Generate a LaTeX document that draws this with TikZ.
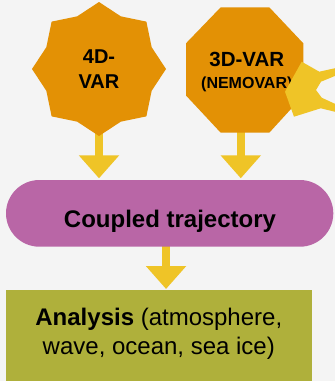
\documentclass[tikz,border=0pt]{standalone}
\usepackage{fontspec}
\setmainfont{Liberation Sans}
\usetikzlibrary{arrows.meta,shapes.misc,backgrounds,calc}
\definecolor{bgc}{HTML}{F4F4F4}
\definecolor{orc}{HTML}{E39105}
\definecolor{yelc}{HTML}{EFC427}
\definecolor{pkc}{HTML}{B966A6}
\definecolor{olc}{HTML}{AFB03B}
\begin{document}
\begin{tikzpicture}[x=1pt,y=-1pt,
  bigarrow/.style={draw=yelc, line width=8pt, -{Triangle[width=39pt,length=23pt]}},
  txt/.style={text=black, inner sep=0pt, align=center}]
\useasboundingbox (0,0) rectangle (335,381);
\begin{scope}[on background layer]
\fill[bgc] (0,0) rectangle (335,381);
\end{scope}
\begin{scope}
\clip (0,0) rectangle (335,381);
% 4D-VAR star
\fill[orc, shift={(99,69)}] (90:67) \foreach \k in {1,...,15}{ -- ({90+22.5*\k}:{67-10*mod(\k,2)}) } -- cycle;
% 3D-VAR octagon
\fill[orc] (220.7,7.3) -- (269.3,7.3) -- (303.3,43.3) -- (303.3,95.5) -- (269.3,132.7) -- (220.7,132.7) -- (186,95.5) -- (186,43.3) -- cycle;
% boxes
\node[rounded rectangle, fill=pkc, minimum width=327.3pt, minimum height=66.7pt, inner sep=0pt] (ct) at (169.65,213.35) {};
\node[rectangle, fill=olc, minimum width=305.7pt, minimum height=100pt, inner sep=0pt, anchor=north west] (an) at (6,290) {};
% texts
\node[txt, font=\fontsize{20}{25}\selectfont\bfseries] (v4) at (99,69) {4D-\\VAR};
\node[txt, font=\fontsize{20.5}{22.3}\selectfont\bfseries] (v3) at (246.8,72) {3D-VAR\\{\fontsize{16}{22.3}\selectfont (NEMOVAR)}};
% yellow shape at right edge
\fill[yelc] (301.7,61.7) -- (319.3,71.7) -- (336,68) -- (336,75.5) -- (321,81.7) -- (316,90) -- (321.7,97.7) -- (336,104.3) -- (336,112) -- (320.7,108.3) -- (294,116.7) -- (285,91.7) -- cycle;
\node[txt, font=\fontsize{24}{28}\selectfont\bfseries, anchor=base] (ctt) at (170,227.3) {Coupled trajectory};
\node[txt, font=\fontsize{24}{28.3}\selectfont, anchor=north] (ant) at (158.8,308.2) {\textbf{Analysis} (atmosphere,\\wave, ocean, sea ice)};
\end{scope}
\begin{scope}[on background layer]
\draw[bigarrow, shorten >=1.5pt] (v4.center) -- (v4.center |- ct.north);
\draw[bigarrow, shorten >=1.5pt] ([xshift=-6pt]v3.center) -- ([xshift=-6pt]v3.center |- ct.north);
\draw[bigarrow, shorten >=1pt] ([xshift=-3.6pt]ct.center) -- ([xshift=-3.6pt]ct.center |- an.north);
\end{scope}
\end{tikzpicture}
\end{document}
